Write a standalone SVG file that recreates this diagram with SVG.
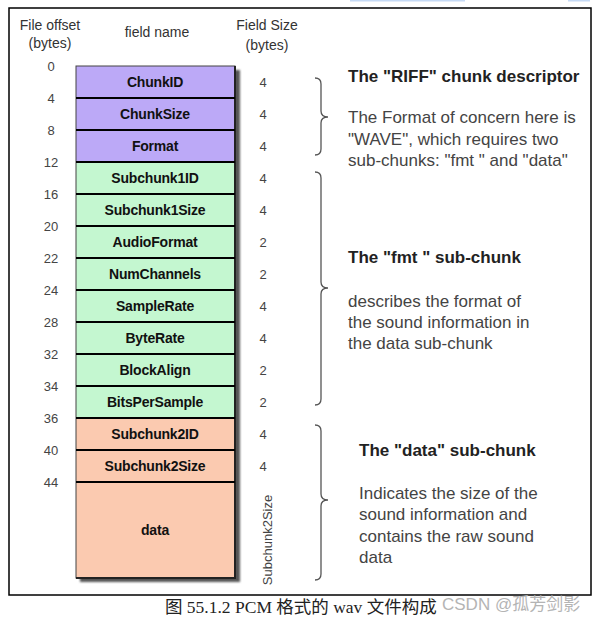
<svg xmlns="http://www.w3.org/2000/svg" width="593" height="620" viewBox="0 0 593 620">
<defs>
<style>
.hdr{font-family:"Liberation Sans",Arial,sans-serif;font-size:14px;fill:#333;text-anchor:middle}
.off{font-family:"Liberation Sans",Arial,sans-serif;font-size:13px;fill:#444;text-anchor:middle}
.sz{font-family:"Liberation Sans",Arial,sans-serif;font-size:13px;fill:#444;text-anchor:middle}
.fn{font-family:"Liberation Sans",Arial,sans-serif;font-size:14px;font-weight:bold;fill:#111;text-anchor:middle;letter-spacing:-0.2px}
.t{font-family:"Liberation Sans",Arial,sans-serif;font-size:17px;font-weight:bold;fill:#222}
.b{font-family:"Liberation Sans",Arial,sans-serif;font-size:17px;fill:#444}
.p{fill:#bca9f7}
.g{fill:#c4f7d0}
.s{fill:#fbcab0}
.sep{stroke:#000;stroke-width:2}
.brace{fill:none;stroke:#555;stroke-width:1.3}
</style>
<filter id="sh" x="-10%" y="-10%" width="130%" height="130%"><feGaussianBlur stdDeviation="1"/></filter>
</defs>
<rect width="593" height="620" fill="#fff"/>
<rect x="350" y="0" width="115" height="1.5" fill="#c6daf5"/>
<rect x="568" y="0" width="22" height="1.5" fill="#c6daf5"/>
<rect x="9" y="8" width="582" height="587" fill="#fff" stroke="#000" stroke-width="1.5"/>

<g id="headers">
<text class="hdr" x="50" y="30">File offset</text>
<text class="hdr" x="50" y="48">(bytes)</text>
<text class="hdr" x="157" y="37">field name</text>
<text class="hdr" x="267" y="30">Field Size</text>
<text class="hdr" x="267" y="50">(bytes)</text>
</g>

<g id="offsets">
<text class="off" x="51" y="71">0</text>
<text class="off" x="51" y="103">4</text>
<text class="off" x="51" y="135">8</text>
<text class="off" x="51" y="167">12</text>
<text class="off" x="51" y="199">16</text>
<text class="off" x="51" y="231">20</text>
<text class="off" x="51" y="263">22</text>
<text class="off" x="51" y="295">24</text>
<text class="off" x="51" y="327">28</text>
<text class="off" x="51" y="359">32</text>
<text class="off" x="51" y="391">34</text>
<text class="off" x="51" y="423">36</text>
<text class="off" x="51" y="455">40</text>
<text class="off" x="51" y="487">44</text>
</g>

<rect x="80" y="70" width="160" height="512" fill="#555" filter="url(#sh)"/>

<g id="ChunkID"><rect class="p" x="76" y="66" width="159" height="32"/><text class="fn" x="155" y="87">ChunkID</text><text class="sz" x="263" y="87">4</text></g>
<g id="ChunkSize"><rect class="p" x="76" y="98" width="159" height="32"/><text class="fn" x="155" y="119">ChunkSize</text><text class="sz" x="263" y="119">4</text></g>
<g id="Format"><rect class="p" x="76" y="130" width="159" height="32"/><text class="fn" x="155" y="151">Format</text><text class="sz" x="263" y="151">4</text></g>
<g id="Subchunk1ID"><rect class="g" x="76" y="162" width="159" height="32"/><text class="fn" x="155" y="183">Subchunk1ID</text><text class="sz" x="263" y="183">4</text></g>
<g id="Subchunk1Size"><rect class="g" x="76" y="194" width="159" height="32"/><text class="fn" x="155" y="215">Subchunk1Size</text><text class="sz" x="263" y="215">4</text></g>
<g id="AudioFormat"><rect class="g" x="76" y="226" width="159" height="32"/><text class="fn" x="155" y="247">AudioFormat</text><text class="sz" x="263" y="247">2</text></g>
<g id="NumChannels"><rect class="g" x="76" y="258" width="159" height="32"/><text class="fn" x="155" y="279">NumChannels</text><text class="sz" x="263" y="279">2</text></g>
<g id="SampleRate"><rect class="g" x="76" y="290" width="159" height="32"/><text class="fn" x="155" y="311">SampleRate</text><text class="sz" x="263" y="311">4</text></g>
<g id="ByteRate"><rect class="g" x="76" y="322" width="159" height="32"/><text class="fn" x="155" y="343">ByteRate</text><text class="sz" x="263" y="343">4</text></g>
<g id="BlockAlign"><rect class="g" x="76" y="354" width="159" height="32"/><text class="fn" x="155" y="375">BlockAlign</text><text class="sz" x="263" y="375">2</text></g>
<g id="BitsPerSample"><rect class="g" x="76" y="386" width="159" height="32"/><text class="fn" x="155" y="407">BitsPerSample</text><text class="sz" x="263" y="407">2</text></g>
<g id="Subchunk2ID"><rect class="s" x="76" y="418" width="159" height="32"/><text class="fn" x="155" y="439">Subchunk2ID</text><text class="sz" x="263" y="439">4</text></g>
<g id="Subchunk2Size"><rect class="s" x="76" y="450" width="159" height="32"/><text class="fn" x="155" y="471">Subchunk2Size</text><text class="sz" x="263" y="471">4</text></g>
<g id="data"><rect class="s" x="76" y="482" width="159" height="96"/><text class="fn" x="155" y="535">data</text>
<text class="sz" transform="translate(272,540) rotate(-90)">Subchunk2Size</text></g>

<g id="stack-lines">
<rect x="76" y="66" width="159" height="512" fill="none" stroke="#444" stroke-width="1"/>
<line x1="235" y1="66" x2="235" y2="578" stroke="#222" stroke-width="2"/>
<line x1="76" y1="578" x2="236" y2="578" stroke="#222" stroke-width="2"/>
<line class="sep" x1="76" y1="98" x2="235" y2="98"/>
<line class="sep" x1="76" y1="130" x2="235" y2="130"/>
<line class="sep" x1="76" y1="162" x2="235" y2="162"/>
<line class="sep" x1="76" y1="194" x2="235" y2="194"/>
<line class="sep" x1="76" y1="226" x2="235" y2="226"/>
<line class="sep" x1="76" y1="258" x2="235" y2="258"/>
<line class="sep" x1="76" y1="290" x2="235" y2="290"/>
<line class="sep" x1="76" y1="322" x2="235" y2="322"/>
<line class="sep" x1="76" y1="354" x2="235" y2="354"/>
<line class="sep" x1="76" y1="386" x2="235" y2="386"/>
<line class="sep" x1="76" y1="418" x2="235" y2="418"/>
<line class="sep" x1="76" y1="450" x2="235" y2="450"/>
<line class="sep" x1="76" y1="482" x2="235" y2="482"/>
</g>

<g id="connectors">
<path class="brace" d="M315,78 Q321,78 321,84 L321,111 Q321,117 328,117 Q321,117 321,123 L321,149 Q321,155 315,155"/>
<path class="brace" d="M315,172 Q321,172 321,178 L321,282 Q321,288 328,288 Q321,288 321,294 L321,399 Q321,405 315,405"/>
<path class="brace" d="M315,425 Q321,425 321,431 L321,494 Q321,500 328,500 Q321,500 321,506 L321,574 Q321,580 315,580"/>
</g>

<g id="riff-desc">
<text class="t" x="348" y="82">The "RIFF" chunk descriptor</text>
<text class="b" x="348" y="123">The Format of concern here is</text>
<text class="b" x="348" y="145">"WAVE", which requires two</text>
<text class="b" x="348" y="166">sub-chunks: "fmt " and "data"</text>
</g>
<g id="fmt-desc">
<text class="t" x="348" y="263">The "fmt " sub-chunk</text>
<text class="b" x="348" y="307">describes the format of</text>
<text class="b" x="348" y="328">the sound information in</text>
<text class="b" x="348" y="349">the data sub-chunk</text>
</g>
<g id="data-desc">
<text class="t" x="359" y="456">The "data" sub-chunk</text>
<text class="b" x="359" y="499">Indicates the size of the</text>
<text class="b" x="359" y="520">sound information and</text>
<text class="b" x="359" y="542">contains the raw sound</text>
<text class="b" x="359" y="563">data</text>
</g>

<text x="165" y="613" font-family="'Liberation Serif','Noto Sans CJK SC',serif" font-size="17.5" fill="#222">图 55.1.2 PCM 格式的 wav 文件构成</text>
<text x="442" y="610" font-family="'Liberation Sans','Noto Sans CJK SC',sans-serif" font-size="17" fill="#b4b4b4">CSDN @孤芳剑影</text>
</svg>
